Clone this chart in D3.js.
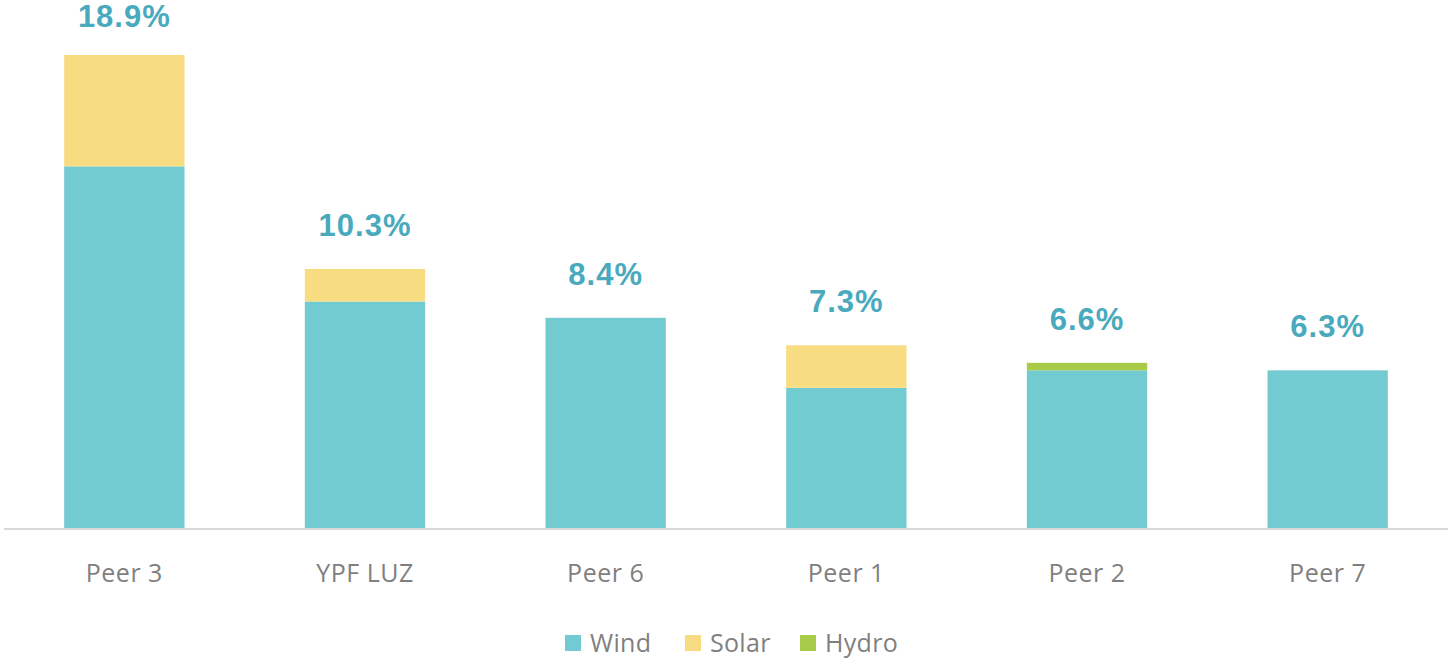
<!DOCTYPE html>
<html>
<head>
<meta charset="utf-8">
<script src="https://cdn.jsdelivr.net/npm/d3@7"></script>
<style>
  body { margin: 0; background: #fff; }
</style>
</head>
<body>
<script>
var categories = ["Peer 3", "YPF LUZ", "Peer 6", "Peer 1", "Peer 2", "Peer 7"];
var wind  = [14.45, 9.05, 8.4, 5.6, 6.3, 6.3];
var solar = [4.45, 1.3, 0, 1.7, 0, 0];
var hydro = [0, 0, 0, 0, 0.3, 0];
var totals = ["18.9%", "10.3%", "8.4%", "7.3%", "6.6%", "6.3%"];
var seriesNames = ["Wind", "Solar", "Hydro"];

var colors = { Wind: "#72cbd0", Solar: "#f8dc82", Hydro: "#a8cc4a" };

var W = 1454, H = 664;
var baseY = 528;

var svg = d3.select("body").append("svg")
    .attr("width", W)
    .attr("height", H);

var rows = categories.map(function(c, i) {
    return { cat: c, Wind: wind[i], Solar: solar[i], Hydro: hydro[i], label: totals[i] };
});

var stack = d3.stack().keys(seriesNames)(rows);

var x = d3.scaleBand()
    .domain(categories)
    .range([4, 1448])
    .paddingInner(0.5)
    .paddingOuter(0.25);

var y = d3.scaleLinear()
    .domain([0, 18.9])
    .range([baseY, 55]);

// ==== bars ====
svg.append("g").selectAll("g")
    .data(stack)
    .join("g")
      .attr("fill", function(d) { return colors[d.key]; })
    .selectAll("rect")
    .data(function(d) { return d; })
    .join("rect")
      .attr("x", function(d) { return x(d.data.cat); })
      .attr("y", function(d) { return y(d[1]); })
      .attr("width", x.bandwidth())
      .attr("height", function(d) { return y(d[0]) - y(d[1]); });

// ==== axis line ====
svg.append("line")
    .attr("x1", 4)
    .attr("x2", 1448)
    .attr("y1", baseY + 1)
    .attr("y2", baseY + 1)
    .attr("stroke", "#d9d9d9")
    .attr("stroke-width", 2);

// ==== category labels ====
svg.append("g").selectAll("text")
    .data(categories)
    .join("text")
      .text(function(d) { return d; })
      .attr("x", function(d) { return x(d) + x.bandwidth() / 2; })
      .attr("y", 582)
      .attr("text-anchor", "middle")
      .attr("font-family", '"Open Sans", sans-serif')
      .attr("font-size", "25px")
      .attr("letter-spacing", "0.5px")
      .attr("fill", "#7f7f7f");

// ==== total labels ====
svg.append("g").selectAll("text")
    .data(rows)
    .join("text")
      .text(function(d) { return d.label; })
      .attr("x", function(d) { return x(d.cat) + x.bandwidth() / 2; })
      .attr("y", function(d) {
          var top = y(d.Wind + d.Solar + d.Hydro);
          return Math.max(top - 33, 27);
      })
      .attr("text-anchor", "middle")
      .attr("font-family", '"Liberation Sans", Arial, sans-serif')
      .attr("font-size", "31px")
      .attr("font-weight", 700)
      .attr("letter-spacing", "1px")
      .attr("fill", "#4aaabd");

// ==== legend ====
var legendX = [565, 685, 800];
var legend = svg.append("g").selectAll("g")
    .data(seriesNames)
    .join("g")
      .attr("transform", function(d, i) { return "translate(" + legendX[i] + ",635)"; });

legend.append("rect")
    .attr("width", 16)
    .attr("height", 16)
    .attr("fill", function(d) { return colors[d]; });

legend.append("text")
    .text(function(d) { return d; })
    .attr("x", 25)
    .attr("y", 17)
    .attr("font-family", '"Open Sans", sans-serif')
    .attr("font-size", "25px")
    .attr("letter-spacing", "0.3px")
    .attr("fill", "#7f7f7f");
</script>
</body>
</html>
